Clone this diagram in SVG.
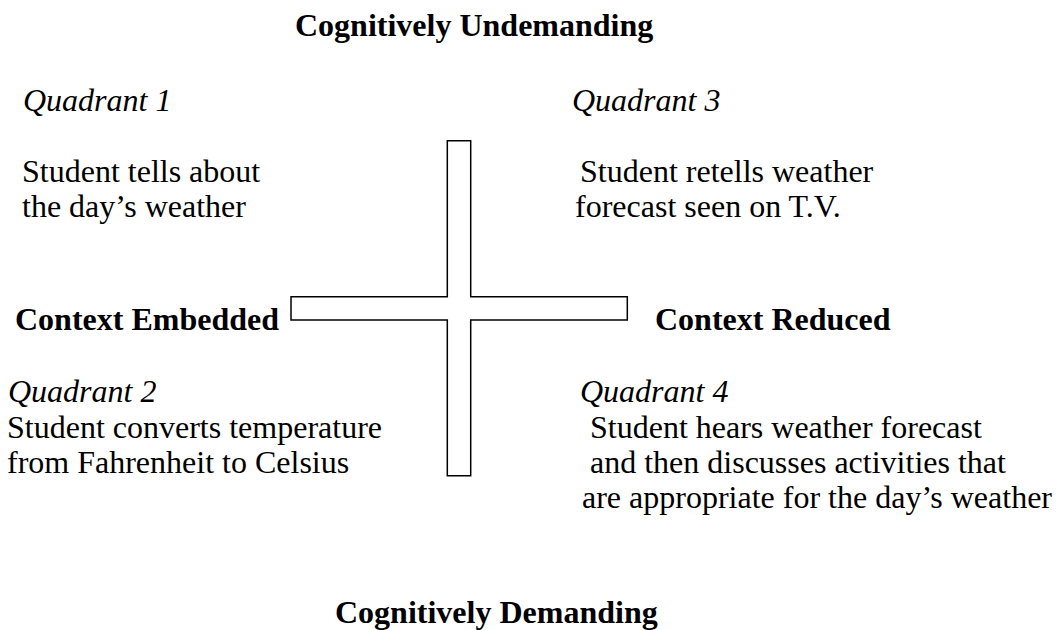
<svg xmlns="http://www.w3.org/2000/svg" width="1056" height="630" viewBox="0 0 1056 630">
  <style>
    text { font-family: "Liberation Serif", "Times New Roman", serif; font-size: 32px; fill: #000; }
    .b { font-weight: bold; }
    .i { font-style: italic; }
    .bar { fill: #fff; stroke: #000; stroke-width: 1.5; }
  </style>
  <rect width="1056" height="630" fill="#fff"/>
  <g id="cross">
    <path class="bar" d="M447.3,140.7 H470.7 V296.7 H627.3 V320 H470.7 V475.7 H447.3 V320 H291 V296.7 H447.3 Z"/>
  </g>
  <g id="top-axis"><text class="b" x="295" y="36">Cognitively Undemanding</text></g>
  <g id="bottom-axis"><text class="b" x="335" y="623">Cognitively Demanding</text></g>
  <g id="left-axis"><text class="b" x="15" y="330">Context Embedded</text></g>
  <g id="right-axis"><text class="b" x="655" y="330">Context Reduced</text></g>
  <g id="quadrant1">
    <text class="i" x="23" y="111">Quadrant 1</text>
    <text x="22" y="182">Student tells about</text>
    <text x="22" y="217">the day’s weather</text>
  </g>
  <g id="quadrant3">
    <text class="i" x="572" y="111">Quadrant 3</text>
    <text x="580" y="182">Student retells weather</text>
    <text x="575" y="217">forecast seen on T.V.</text>
  </g>
  <g id="quadrant2">
    <text class="i" x="8" y="402">Quadrant 2</text>
    <text x="7" y="438">Student converts temperature</text>
    <text x="7" y="473">from Fahrenheit to Celsius</text>
  </g>
  <g id="quadrant4">
    <text class="i" x="580" y="402">Quadrant 4</text>
    <text x="590" y="438">Student hears weather forecast</text>
    <text x="590" y="473">and then discusses activities that</text>
    <text x="582" y="508">are appropriate for the day’s weather</text>
  </g>
  <g id="connectors"></g>
</svg>
